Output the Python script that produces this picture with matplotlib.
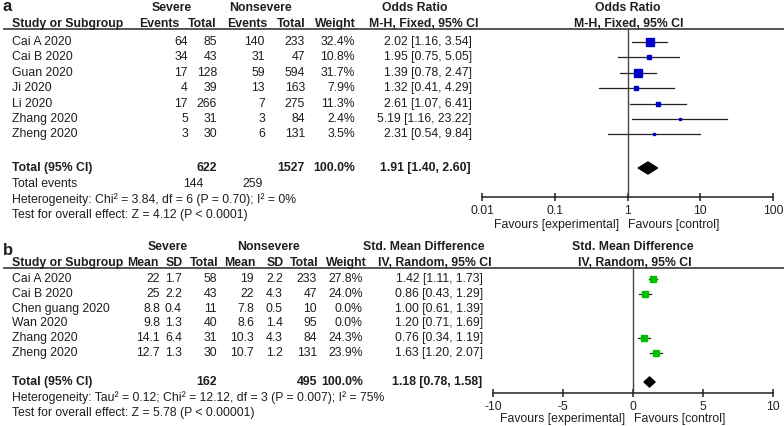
import matplotlib.pyplot as plt
import numpy as np

plt.rcParams['font.family'] = ['Liberation Sans', 'DejaVu Sans']
plt.rcParams['axes.unicode_minus'] = False

W, H = 784, 426

# ---- panel a: severe vs nonsevere, events (odds ratio)
studies_a = ['Cai A 2020', 'Cai B 2020', 'Guan 2020', 'Ji 2020', 'Li 2020',
             'Zhang 2020', 'Zheng 2020']
sev_events = [64, 34, 17, 4, 17, 5, 3]
sev_total = [85, 43, 128, 39, 266, 31, 30]
non_events = [140, 31, 59, 13, 7, 3, 6]
non_total = [233, 47, 594, 163, 275, 84, 131]
weight_a = [32.4, 10.8, 31.7, 7.9, 11.3, 2.4, 3.5]
or_est = [2.02, 1.95, 1.39, 1.32, 2.61, 5.19, 2.31]
or_lo = [1.16, 0.75, 0.78, 0.41, 1.07, 1.16, 0.54]
or_hi = [3.54, 5.05, 2.47, 4.29, 6.41, 23.22, 9.84]
or_total = [1.91, 1.40, 2.60]
totals_a = [622, 1527]
events_a = [144, 259]
ticks_a = [0.01, 0.1, 1, 10, 100]
ticklabels_a = ['0.01', '0.1', '1', '10', '100']

# ---- panel b: severe vs nonsevere, means (SMD)
studies_b = ['Cai A 2020', 'Cai B 2020', 'Chen guang 2020', 'Wan 2020',
             'Zhang 2020', 'Zheng 2020']
sev_mean = [22, 25, 8.8, 9.8, 14.1, 12.7]
sev_sd = [1.7, 2.2, 0.4, 1.3, 6.4, 1.3]
sev_n = [58, 43, 11, 40, 31, 30]
non_mean = [19, 22, 7.8, 8.6, 10.3, 10.7]
non_sd = [2.2, 4.3, 0.5, 1.4, 4.3, 1.2]
non_n = [233, 47, 10, 95, 84, 131]
weight_b = [27.8, 24.0, 0.0, 0.0, 24.3, 23.9]
smd_est = [1.42, 0.86, 1.00, 1.20, 0.76, 1.63]
smd_lo = [1.11, 0.43, 0.61, 0.71, 0.34, 1.20]
smd_hi = [1.73, 1.29, 1.39, 1.69, 1.19, 2.07]
smd_total = [1.18, 0.78, 1.58]
totals_b = [162, 495]
ticks_b = [-10, -5, 0, 5, 10]

TXT = '#1e1e1e'
FS = 8.8

fig = plt.figure(figsize=(W / 100, H / 100), dpi=100)
bg = fig.add_axes([0, 0, 1, 1])
bg.set_xlim(0, W)
bg.set_ylim(H, 0)
bg.axis('off')


def t(x, y, s, ha='left', bold=False, size=FS, va='center'):
    bg.text(x, y, s, ha=ha, va=va, fontsize=size, color=TXT,
            fontweight='bold' if bold else 'normal')


def forest_axes(x0, x1, y0, y1):
    ax = fig.add_axes([x0 / W, 1 - y1 / H, (x1 - x0) / W, (y1 - y0) / H])
    ax.set_ylim(y1, y0)
    ax.patch.set_alpha(0)
    for s in ['top', 'left', 'right']:
        ax.spines[s].set_visible(False)
    ax.spines['bottom'].set_linewidth(1.1)
    ax.spines['bottom'].set_color('#222')
    ax.set_yticks([])
    ax.tick_params(axis='x', direction='inout', length=6, width=1.1,
                   labelsize=FS, colors='#222', pad=3)
    return ax


# ================= panel a =================
t(3, 11, 'a', bold=True, size=12, va='baseline')
t(172, 8, 'Severe', ha='center', bold=True)
t(260, 8, 'Nonsevere', ha='center', bold=True)
t(415, 8, 'Odds Ratio', ha='center', bold=True)
t(628, 8, 'Odds Ratio', ha='center', bold=True)
t(12, 24, 'Study or Subgroup', bold=True)
for x, s in zip([159, 202, 247, 291, 335], ['Events', 'Total', 'Events', 'Total', 'Weight']):
    t(x, 24, s, ha='center', bold=True)
t(424, 24, 'M-H, Fixed, 95% CI', ha='center', bold=True)
t(629, 24, 'M-H, Fixed, 95% CI', ha='center', bold=True)
bg.plot([4, W], [28.5, 28.5], color='#555', lw=1.4)

rows_a = 42 + 15.4 * np.arange(len(studies_a))
for i, y in enumerate(rows_a):
    t(12, y, studies_a[i])
    t(188, y, str(sev_events[i]), ha='right')
    t(217, y, str(sev_total[i]), ha='right')
    t(265, y, str(non_events[i]), ha='right')
    t(305, y, str(non_total[i]), ha='right')
    t(355, y, f'{weight_a[i]:.1f}%', ha='right')
    t(472, y, f'{or_est[i]:.2f} [{or_lo[i]:.2f}, {or_hi[i]:.2f}]', ha='right')
ytot_a = 168
t(12, ytot_a, 'Total (95% CI)', bold=True)
t(217, ytot_a, str(totals_a[0]), ha='right', bold=True)
t(305, ytot_a, str(totals_a[1]), ha='right', bold=True)
t(355, ytot_a, '100.0%', ha='right', bold=True)
t(471, ytot_a, f'{or_total[0]:.2f} [{or_total[1]:.2f}, {or_total[2]:.2f}]', ha='right', bold=True)
t(12, 184, 'Total events')
t(203, 184, str(events_a[0]), ha='right')
t(263, 184, str(events_a[1]), ha='right')
t(12, 200, 'Heterogeneity: Chi² = 3.84, df = 6 (P = 0.70); I² = 0%')
t(12, 215, 'Test for overall effect: Z = 4.12 (P < 0.0001)')
t(619, 225, 'Favours [experimental]', ha='right')
t(628, 225, 'Favours [control]')

axa = forest_axes(482, 773, 28.5, 197)
axa.set_xscale('log')
axa.set_xlim(0.01, 100)
axa.set_xticks(ticks_a)
axa.set_xticklabels(ticklabels_a)
axa.minorticks_off()
axa.axvline(1, color='#444', lw=1)
for i, y in enumerate(rows_a):
    axa.plot([or_lo[i], or_hi[i]], [y, y], color='#222', lw=0.9)
    side = 7.5 * np.sqrt(weight_a[i] / max(weight_a))
    axa.plot(or_est[i], y, marker='s', ms=side * 0.72, color='#0000c8', mec='#0000c8')
axa.fill([or_total[1], or_total[0], or_total[2], or_total[0]],
         [ytot_a, ytot_a - 6, ytot_a, ytot_a + 6], color='black')

# ================= panel b =================
t(3, 255, 'b', bold=True, size=12, va='baseline')
t(168, 247, 'Severe', ha='center', bold=True)
t(268, 247, 'Nonsevere', ha='center', bold=True)
t(424, 247, 'Std. Mean Difference', ha='center', bold=True)
t(633, 247, 'Std. Mean Difference', ha='center', bold=True)
t(12, 263, 'Study or Subgroup', bold=True)
for x, s in zip([143, 174, 204, 240, 275, 304, 346],
                ['Mean', 'SD', 'Total', 'Mean', 'SD', 'Total', 'Weight']):
    t(x, 263, s, ha='center', bold=True)
t(435, 263, 'IV, Random, 95% CI', ha='center', bold=True)
t(635, 263, 'IV, Random, 95% CI', ha='center', bold=True)
bg.plot([4, W], [268, 268], color='#555', lw=1.4)

rows_b = 279 + 14.8 * np.arange(len(studies_b))
for i, y in enumerate(rows_b):
    t(12, y, studies_b[i])
    t(160, y, f'{sev_mean[i]:g}', ha='right')
    t(182, y, f'{sev_sd[i]:g}', ha='right')
    t(217, y, str(sev_n[i]), ha='right')
    t(254, y, f'{non_mean[i]:g}', ha='right')
    t(283, y, f'{non_sd[i]:g}', ha='right')
    t(317, y, str(non_n[i]), ha='right')
    t(363, y, f'{weight_b[i]:.1f}%', ha='right')
    t(483, y, f'{smd_est[i]:.2f} [{smd_lo[i]:.2f}, {smd_hi[i]:.2f}]', ha='right')
ytot_b = 382
t(12, ytot_b, 'Total (95% CI)', bold=True)
t(217, ytot_b, str(totals_b[0]), ha='right', bold=True)
t(317, ytot_b, str(totals_b[1]), ha='right', bold=True)
t(363, ytot_b, '100.0%', ha='right', bold=True)
t(482, ytot_b, f'{smd_total[0]:.2f} [{smd_total[1]:.2f}, {smd_total[2]:.2f}]', ha='right', bold=True)
t(12, 398, 'Heterogeneity: Tau² = 0.12; Chi² = 12.12, df = 3 (P = 0.007); I² = 75%')
t(12, 413, 'Test for overall effect: Z = 5.78 (P < 0.00001)')
t(625, 419, 'Favours [experimental]', ha='right')
t(634, 419, 'Favours [control]')

axb = forest_axes(493, 773, 268, 393)
axb.set_xlim(-10, 10)
axb.set_xticks(ticks_b)
axb.axvline(0, color='#444', lw=1)
for i, y in enumerate(rows_b):
    if weight_b[i] == 0:
        continue
    axb.plot([smd_lo[i], smd_hi[i]], [y, y], color='#222', lw=0.9)
    side = 5.5 * np.sqrt(weight_b[i] / max(weight_b))
    axb.plot(smd_est[i], y, marker='s', ms=side * 0.72, color='#00c000', mec='#00c000')
axb.fill([smd_total[1], smd_total[0], smd_total[2], smd_total[0]],
         [ytot_b, ytot_b - 5, ytot_b, ytot_b + 5], color='black')

fig.savefig('out.png', dpi=100)
